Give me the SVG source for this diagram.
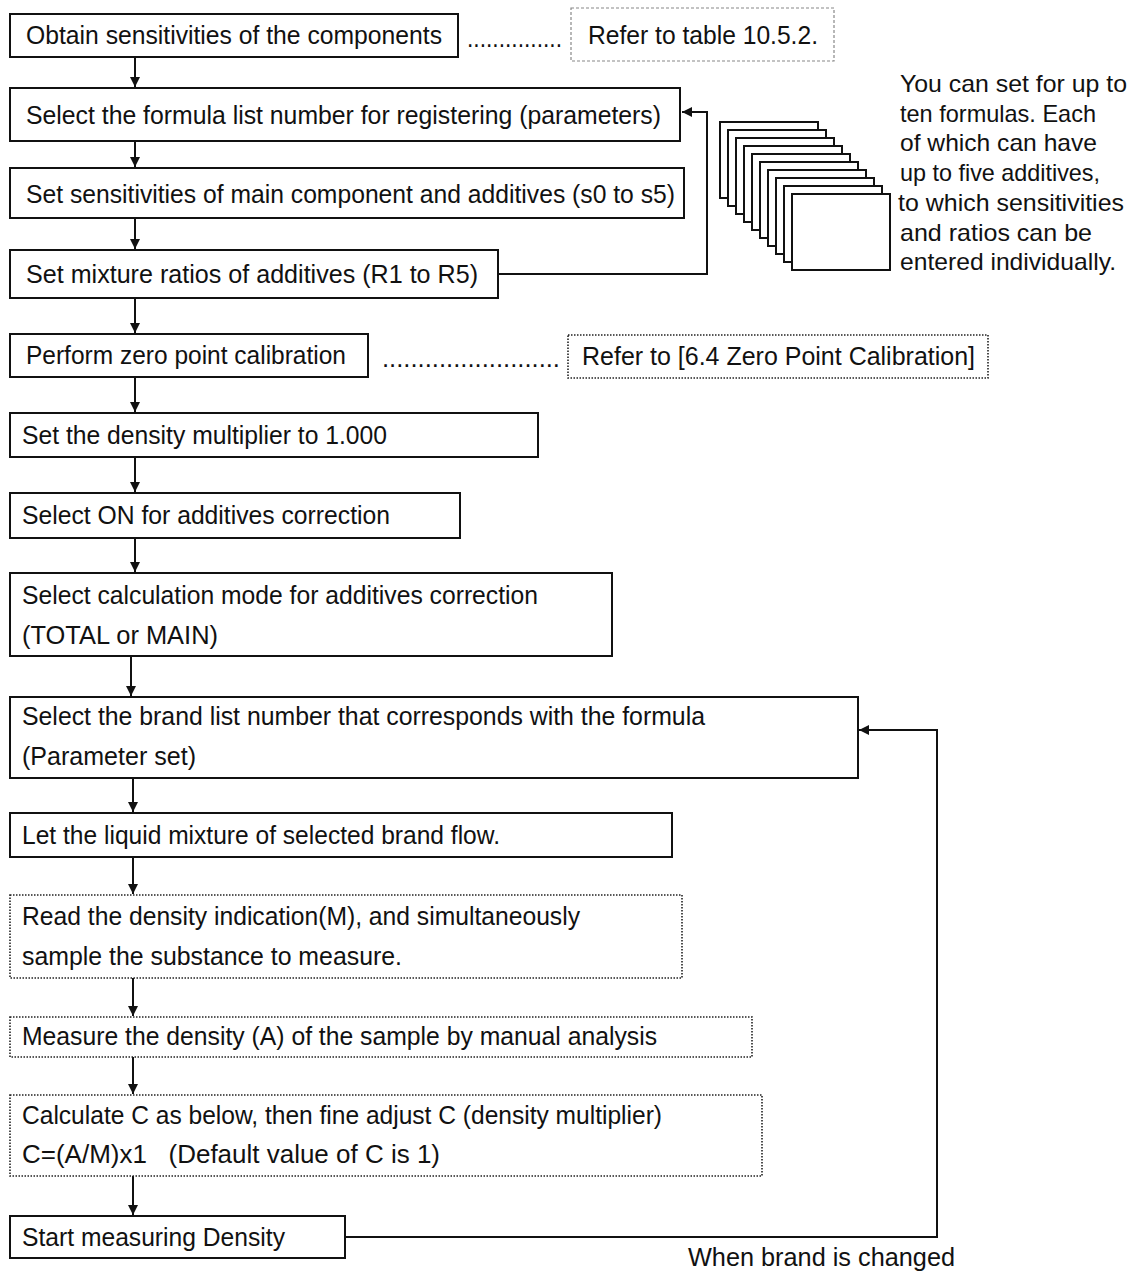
<svg xmlns="http://www.w3.org/2000/svg" width="1133" height="1271" viewBox="0 0 1133 1271">
<style>
text{font-family:"Liberation Sans",Arial,sans-serif;font-size:25px;fill:#111}
.box{fill:#fff;stroke:#111;stroke-width:2}
.dot{fill:#fff;stroke:#222;stroke-width:1.6;stroke-dasharray:1.5 1.5}
.ref{fill:#fff;stroke:#888;stroke-width:1.2;stroke-dasharray:3 2}
.ln{fill:none;stroke:#111;stroke-width:2}
.pg{fill:#fff;stroke:#111;stroke-width:2}
.side{font-size:24px}
</style>
<defs>
<marker id="ah" viewBox="0 0 10 12" refX="10" refY="6" markerWidth="10" markerHeight="12" markerUnits="userSpaceOnUse" orient="auto">
<path d="M0,1 L10,6 L0,11 Z" fill="#111"/>
</marker>
</defs>
<rect width="1133" height="1271" fill="#fff"/>

<g id="connectors">
<line class="ln" x1="135" y1="57" x2="135" y2="87" marker-end="url(#ah)"/>
<line class="ln" x1="135" y1="141" x2="135" y2="167" marker-end="url(#ah)"/>
<line class="ln" x1="135" y1="218" x2="135" y2="249" marker-end="url(#ah)"/>
<line class="ln" x1="135" y1="298" x2="135" y2="333" marker-end="url(#ah)"/>
<line class="ln" x1="135" y1="377" x2="135" y2="412" marker-end="url(#ah)"/>
<line class="ln" x1="135" y1="457" x2="135" y2="492" marker-end="url(#ah)"/>
<line class="ln" x1="135" y1="538" x2="135" y2="572" marker-end="url(#ah)"/>
<line class="ln" x1="131" y1="656" x2="131" y2="696" marker-end="url(#ah)"/>
<line class="ln" x1="133" y1="778" x2="133" y2="812" marker-end="url(#ah)"/>
<line class="ln" x1="133" y1="857" x2="133" y2="894" marker-end="url(#ah)"/>
<line class="ln" x1="133" y1="978" x2="133" y2="1016" marker-end="url(#ah)"/>
<line class="ln" x1="133" y1="1057" x2="133" y2="1094" marker-end="url(#ah)"/>
<line class="ln" x1="133" y1="1176" x2="133" y2="1215" marker-end="url(#ah)"/>
<polyline class="ln" points="498,274 707,274 707,112 682,112" marker-end="url(#ah)"/>
<polyline class="ln" points="345,1237 937,1237 937,730 859,730" marker-end="url(#ah)"/>
</g>

<g id="n1"><rect class="box" x="10" y="14" width="448" height="43"/><text x="26" y="44" textLength="416" lengthAdjust="spacingAndGlyphs">Obtain sensitivities of the components</text></g>
<g id="d1"><text x="467" y="47" textLength="95" lengthAdjust="spacingAndGlyphs">...............</text></g>
<g id="r1"><rect class="ref" x="571" y="8" width="263" height="53"/><text x="588" y="44" textLength="230" lengthAdjust="spacingAndGlyphs">Refer to table 10.5.2.</text></g>

<g id="n2"><rect class="box" x="10" y="88" width="670" height="53"/><text x="26" y="124" textLength="635" lengthAdjust="spacingAndGlyphs">Select the formula list number for registering (parameters)</text></g>
<g id="n3"><rect class="box" x="10" y="168" width="674" height="50"/><text x="26" y="203" textLength="649" lengthAdjust="spacingAndGlyphs">Set sensitivities of main component and additives (s0 to s5)</text></g>
<g id="n4"><rect class="box" x="10" y="250" width="488" height="48"/><text x="26" y="283" textLength="452" lengthAdjust="spacingAndGlyphs">Set mixture ratios of additives (R1 to R5)</text></g>

<g id="pages">
<rect class="pg" x="720" y="122" width="98" height="76"/>
<rect class="pg" x="728" y="130" width="98" height="76"/>
<rect class="pg" x="736" y="138" width="98" height="76"/>
<rect class="pg" x="744" y="146" width="98" height="76"/>
<rect class="pg" x="752" y="154" width="98" height="76"/>
<rect class="pg" x="760" y="162" width="98" height="76"/>
<rect class="pg" x="768" y="170" width="98" height="76"/>
<rect class="pg" x="776" y="178" width="98" height="76"/>
<rect class="pg" x="784" y="186" width="98" height="76"/>
<rect class="pg" x="792" y="194" width="98" height="76"/>
</g>
<g id="note">
<text class="side" x="900" y="92" textLength="227" lengthAdjust="spacingAndGlyphs">You can set for up to</text>
<text class="side" x="900" y="122" textLength="196" lengthAdjust="spacingAndGlyphs">ten formulas. Each</text>
<text class="side" x="900" y="151" textLength="197" lengthAdjust="spacingAndGlyphs">of which can have</text>
<text class="side" x="900" y="181" textLength="200" lengthAdjust="spacingAndGlyphs">up to five additives,</text>
<text class="side" x="898" y="211" textLength="226" lengthAdjust="spacingAndGlyphs">to which sensitivities</text>
<text class="side" x="900" y="241" textLength="192" lengthAdjust="spacingAndGlyphs">and ratios can be</text>
<text class="side" x="900" y="270" textLength="216" lengthAdjust="spacingAndGlyphs">entered individually.</text>
</g>

<g id="n5"><rect class="box" x="10" y="334" width="358" height="43"/><text x="26" y="364" textLength="320" lengthAdjust="spacingAndGlyphs">Perform zero point calibration</text></g>
<g id="d2"><text x="382" y="367" textLength="178" lengthAdjust="spacingAndGlyphs">.........................</text></g>
<g id="r2"><rect class="dot" x="568" y="335" width="420" height="43"/><text x="582" y="365" textLength="393" lengthAdjust="spacingAndGlyphs">Refer to [6.4 Zero Point Calibration]</text></g>

<g id="n6"><rect class="box" x="10" y="413" width="528" height="44"/><text x="22" y="444" textLength="365" lengthAdjust="spacingAndGlyphs">Set the density multiplier to 1.000</text></g>
<g id="n7"><rect class="box" x="10" y="493" width="450" height="45"/><text x="22" y="524" textLength="368" lengthAdjust="spacingAndGlyphs">Select ON for additives correction</text></g>
<g id="n8"><rect class="box" x="10" y="573" width="602" height="83"/><text x="22" y="604" textLength="516" lengthAdjust="spacingAndGlyphs">Select calculation mode for additives correction</text><text x="22" y="644" textLength="196" lengthAdjust="spacingAndGlyphs">(TOTAL or MAIN)</text></g>
<g id="n9"><rect class="box" x="10" y="697" width="848" height="81"/><text x="22" y="725" textLength="683" lengthAdjust="spacingAndGlyphs">Select the brand list number that corresponds with the formula</text><text x="22" y="765" textLength="174" lengthAdjust="spacingAndGlyphs">(Parameter set)</text></g>
<g id="n10"><rect class="box" x="10" y="813" width="662" height="44"/><text x="22" y="844" textLength="478" lengthAdjust="spacingAndGlyphs">Let the liquid mixture of selected brand flow.</text></g>
<g id="n11"><rect class="dot" x="10" y="895" width="672" height="83"/><text x="22" y="925" textLength="558" lengthAdjust="spacingAndGlyphs">Read the density indication(M), and simultaneously</text><text x="22" y="965" textLength="380" lengthAdjust="spacingAndGlyphs">sample the substance to measure.</text></g>
<g id="n12"><rect class="dot" x="10" y="1017" width="742" height="40"/><text x="22" y="1045" textLength="635" lengthAdjust="spacingAndGlyphs">Measure the density (A) of the sample by manual analysis</text></g>
<g id="n13"><rect class="dot" x="10" y="1095" width="752" height="81"/><text x="22" y="1124" textLength="640" lengthAdjust="spacingAndGlyphs">Calculate C as below, then fine adjust C (density multiplier)</text><text x="22" y="1163" textLength="418" lengthAdjust="spacingAndGlyphs" xml:space="preserve">C=(A/M)x1   (Default value of C is 1)</text></g>
<g id="n14"><rect class="box" x="10" y="1216" width="335" height="42"/><text x="22" y="1246" textLength="263" lengthAdjust="spacingAndGlyphs">Start measuring Density</text></g>
<g id="lbl"><text x="688" y="1266" textLength="267" lengthAdjust="spacingAndGlyphs">When brand is changed</text></g>
</svg>
